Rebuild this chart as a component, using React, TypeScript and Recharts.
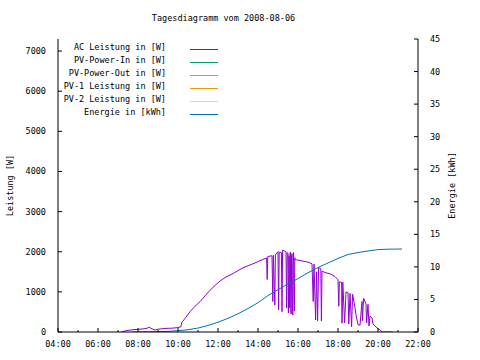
import { ComposedChart, Line, XAxis, YAxis } from 'recharts'

// AC-Leistung (Stunden / Watt)
const acHours = [
  7.15, 7.3, 7.5, 7.8, 8.0, 8.3, 8.5, 8.55, 8.65, 8.85, 9.0, 9.2, 9.4, 9.7, 10.0, 10.15, 10.18,
  10.4, 10.6, 10.85, 11.1, 11.35, 11.6, 11.85, 12.1, 12.4, 12.77, 13.0, 13.3, 13.6, 13.85, 14.1,
  14.43, 14.46, 14.49, 14.7, 14.74, 14.77, 14.84, 14.87, 15.0, 15.03, 15.06, 15.17, 15.2, 15.23,
  15.4, 15.43, 15.46, 15.5, 15.52, 15.55, 15.58, 15.6, 15.62, 15.64, 15.66, 15.68, 15.7, 15.72,
  15.74, 15.76, 15.78, 15.8, 15.82, 15.84, 15.86, 16.0, 16.3,
  16.5, 16.7, 16.76, 16.8, 16.88, 16.93, 16.98, 17.03, 17.14, 17.17, 17.2, 17.35, 17.6, 17.85,
  18.0, 18.04, 18.07, 18.18, 18.2, 18.24, 18.33, 18.4, 18.5, 18.54, 18.6, 18.68, 18.73, 18.85,
  18.9, 18.95, 19.0, 19.1, 19.2, 19.22, 19.28, 19.4, 19.43, 19.5, 19.55, 19.6, 19.7, 19.75,
  19.85, 19.95, 20.1, 20.2, 20.75,
]
const acWatts = [
  0, 20, 40, 60, 65, 80, 100, 125, 90, 50, 70, 80, 90, 95, 110, 130, 230,
  370, 505, 640, 755, 900, 1040, 1160, 1270, 1370, 1460, 1530, 1610, 1670, 1720, 1777,
  1843, 1310, 1880, 1900, 760, 1910, 670, 1920, 2000, 550, 1990, 1980, 505, 2040,
  2000, 600, 1980, 1960, 470, 1900, 600, 1950, 1990, 500, 450, 1900, 1950, 700,
  420, 1960, 1980, 900, 520, 1850, 1800, 1790, 1760,
  1740, 1700, 760, 1690, 300, 1500, 280, 1600, 1580, 274, 1520, 1480, 1450, 1380,
  1300, 640, 1250, 1240, 220, 1240, 230, 1000, 980, 200, 960, 130, 940, 600,
  420, 300, 180, 170, 760, 280, 840, 700, 230, 690, 150, 400, 350, 200,
  150, 100, 50, 0, 0,
]

// Energie (Stunden / kWh)
const energyHours = [7.7, 9.0, 9.5, 10.0, 10.5, 11.0, 11.5, 12.0, 12.5, 13.0, 13.5, 14.0, 14.5, 15.0, 15.5, 16.0, 16.5, 17.0, 17.5, 18.0, 18.5, 19.0, 19.5, 20.0, 20.5, 21.2]
const energyKwh = [0, 0.05, 0.1, 0.2, 0.35, 0.6, 1.0, 1.5, 2.1, 2.8, 3.6, 4.5, 5.6, 6.5, 7.4, 8.2, 9.1, 9.9, 10.6, 11.3, 11.9, 12.2, 12.45, 12.65, 12.72, 12.75]

// Legende / Reihen
const seriesNames = ['AC Leistung in [W]', 'PV-Power-In in [W]', 'PV-Power-Out in [W]', 'PV-1 Leistung in [W]', 'PV-2 Leistung in [W]', 'Energie in [kWh]']
const seriesColors = ['#9400d3', '#009e73', '#56b4e9', '#e69f00', '#f0e442', '#0072b2']

const hourTicks = [4, 5, 6, 7, 8, 9, 10, 11, 12, 13, 14, 15, 16, 17, 18, 19, 20, 21, 22]
const powerTicks = [0, 1000, 2000, 3000, 4000, 5000, 6000, 7000]
const energyTicks = [0, 5, 10, 15, 20, 25, 30, 35, 40, 45]

const FONT = '"DejaVu Sans Mono", monospace'
const FS = 8.5
const MARGIN = 12

const acData = acHours.map((h, i) => ({ h, w: acWatts[i] }))
const energyData = energyHours.map((h, i) => ({ h, e: energyKwh[i] }))

const hourLabel = (h: number) => String(h).padStart(2, '0') + ':00'

// gnuplot-artige Ticks: nach innen, Beschriftung aussen
function GnuTick({ x, y, payload, side, label }: any) {
  const v = payload.value
  let len = 4
  let line = null
  let text = null
  if (side === 'left') {
    const ax = x + MARGIN
    line = <line x1={ax} x2={ax + len} y1={y} y2={y} stroke="#000" />
    text = <text x={x} y={y} dy="0.35em" textAnchor="end">{label(v)}</text>
  } else if (side === 'right') {
    const ax = x - MARGIN
    line = <line x1={ax} x2={ax - len} y1={y} y2={y} stroke="#000" />
    text = <text x={x} y={y} dy="0.35em" textAnchor="start">{label(v)}</text>
  } else {
    const major = v % 2 === 0
    len = major ? 4 : 2
    const ay = side === 'bottom' ? y - MARGIN : y + MARGIN
    const dir = side === 'bottom' ? -1 : 1
    line = <line x1={x} x2={x} y1={ay} y2={ay + dir * len} stroke="#000" />
    if (side === 'bottom' && major) text = <text x={x} y={y} dy="0.35em" textAnchor="middle">{label(v)}</text>
  }
  return (
    <g fontSize={FS} fontFamily={FONT} fill="#000">
      {line}
      {text}
    </g>
  )
}

function AxisTitle({ viewBox, value, dx }: any) {
  const cx = viewBox.x + dx
  const cy = viewBox.y + viewBox.height / 2
  return (
    <text x={cx} y={cy} transform={`rotate(-90, ${cx}, ${cy})`} textAnchor="middle" dominantBaseline="central"
      fontSize={FS} fontFamily={FONT} fill="#000">{value}</text>
  )
}

function GnuLegend() {
  return (
    <svg width={240} height={130} style={{ position: 'absolute', left: 0, top: 0 }}>
      {seriesNames.map((n, i) => (
        <g key={n}>
          <text x={166} y={50 + 13 * i} textAnchor="end" fontSize={FS} fontFamily={FONT} fill="#000">{n}</text>
          <line x1={190} x2={218} y1={49.5 + 13 * i} y2={49.5 + 13 * i} stroke={seriesColors[i]} strokeWidth={1} />
        </g>
      ))}
    </svg>
  )
}

export default function App() {
  return (
    <div style={{ position: 'absolute', left: 0, top: 0, width: 480, height: 360, background: '#fff' }}>
      <div style={{ position: 'absolute', left: 0, top: 12, width: 447, textAlign: 'center', fontSize: FS, fontFamily: FONT, lineHeight: '12px', color: '#000' }}>
        Tagesdiagramm vom 2008-08-06
      </div>
      <ComposedChart width={480} height={360} margin={{ top: 39, right: 0, bottom: 0, left: 0 }}>
        <XAxis xAxisId="b" dataKey="h" type="number" domain={[4, 22]} ticks={hourTicks} interval={0}
          height={28} tickSize={0} tickMargin={MARGIN} tickLine={false} stroke="#000" allowDataOverflow
          tick={<GnuTick side="bottom" label={hourLabel} />} />
        <XAxis xAxisId="t" orientation="top" dataKey="h" type="number" domain={[4, 22]} ticks={hourTicks} interval={0}
          height={0} tickSize={0} tickMargin={MARGIN} tickLine={false} stroke="#000" allowDataOverflow
          tick={<GnuTick side="top" label={hourLabel} />} />
        <YAxis yAxisId="p" type="number" domain={[0, 7300]} ticks={powerTicks} interval={0} width={58}
          tickSize={0} tickMargin={MARGIN} tickLine={false} stroke="#000" allowDataOverflow
          tick={<GnuTick side="left" label={(v: number) => String(v)} />}
          label={<AxisTitle value="Leistung [W]" dx={10} />} />
        <YAxis yAxisId="e" orientation="right" type="number" domain={[0, 45]} ticks={energyTicks} interval={0} width={62}
          tickSize={0} tickMargin={MARGIN} tickLine={false} stroke="#000" allowDataOverflow
          tick={<GnuTick side="right" label={(v: number) => String(v)} />}
          label={<AxisTitle value="Energie [kWh]" dx={34} />} />
        <Line xAxisId="b" yAxisId="p" data={acData} dataKey="w" name={seriesNames[0]} stroke={seriesColors[0]} strokeWidth={1}
          dot={false} activeDot={false} type="linear" isAnimationActive={false} />
        <Line xAxisId="b" yAxisId="e" data={energyData} dataKey="e" name={seriesNames[5]} stroke={seriesColors[5]} strokeWidth={1}
          dot={false} activeDot={false} type="linear" isAnimationActive={false} />
        <Line xAxisId="t" yAxisId="e" data={energyData} dataKey="e" stroke="none" dot={false} activeDot={false} isAnimationActive={false} />
      </ComposedChart>
      <GnuLegend />
    </div>
  )
}
